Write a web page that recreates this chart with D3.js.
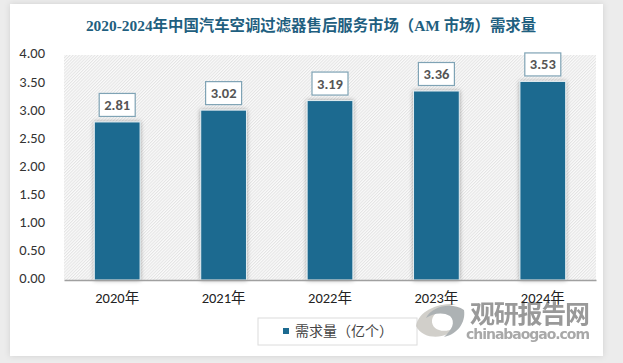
<!DOCTYPE html>
<html>
<head>
<meta charset="utf-8">
<script src="https://cdn.jsdelivr.net/npm/d3@7"></script>
<style>
  html, body { margin: 0; padding: 0; background: #ececec; overflow: hidden; }
  text { font-family: Carlito, "Noto Sans", "Noto Sans CJK SC", sans-serif; }
</style>
</head>
<body>
<div id="chart"></div>
<script>
const years = ['2020年', '2021年', '2022年', '2023年', '2024年']
const demand = [2.81, 3.02, 3.19, 3.36, 3.53]
const yTicks = [0, 0.5, 1, 1.5, 2, 2.5, 3, 3.5, 4]
const titleText = '2020-2024年中国汽车空调过滤器售后服务市场（AM 市场）需求量'
const legendText = '需求量（亿个）'

const svgSize = { width: 623, height: 363 }
const margin = { top: 55, right: 27, bottom: 83, left: 64 }

const svg = d3.select('#chart')
  .append('svg')
  .attr('width', svgSize.width)
  .attr('height', svgSize.height)
  .style('display', 'block')

const defs = svg.append('defs')

const hatch = defs.append('pattern')
  .attr('id', 'hatch')
  .attr('width', 2.2)
  .attr('height', 2.2)
  .attr('patternUnits', 'userSpaceOnUse')
  .attr('patternTransform', 'rotate(45)')
hatch.append('rect').attr('width', 2.2).attr('height', 2.2).attr('fill', '#fafafa')
hatch.append('rect').attr('width', 1).attr('height', 2.2).attr('fill', '#e4e4e4')

const barShadow = defs.append('filter')
  .attr('id', 'bar-shadow')
  .attr('x', '-30%').attr('y', '-10%').attr('width', '160%').attr('height', '120%')
barShadow.append('feDropShadow')
  .attr('dx', 0).attr('dy', 0).attr('stdDeviation', 2.2)
  .attr('flood-color', '#000').attr('flood-opacity', 0.35)

const cardShadow = defs.append('filter')
  .attr('id', 'card-shadow')
  .attr('x', '-5%').attr('y', '-5%').attr('width', '110%').attr('height', '110%')
cardShadow.append('feDropShadow')
  .attr('dx', 0).attr('dy', 0).attr('stdDeviation', 3)
  .attr('flood-color', '#000').attr('flood-opacity', 0.12)

// card behind everything
svg.append('rect')
  .attr('x', 10).attr('y', 4)
  .attr('width', 593).attr('height', 352)
  .attr('fill', '#fff')
  .attr('filter', 'url(#card-shadow)')

const xScale = d3.scaleBand()
  .domain(years)
  .range([margin.left, svgSize.width - margin.right])
  .paddingInner(0.57)
  .paddingOuter(0.285)

const yScale = d3.scaleLinear()
  .domain([0, 4])
  .range([svgSize.height - margin.bottom, margin.top])

svg.append('rect')
  .attr('x', margin.left)
  .attr('y', margin.top)
  .attr('width', svgSize.width - margin.left - margin.right)
  .attr('height', svgSize.height - margin.top - margin.bottom)
  .attr('fill', 'url(#hatch)')

svg.append('text')
  .attr('x', 311)
  .attr('y', 31)
  .attr('text-anchor', 'middle')
  .attr('font-size', 15.4)
  .attr('font-weight', 'bold')
  .attr('fill', '#1f5f80')
  .style('font-family', '"Liberation Serif", "Noto Sans CJK SC", serif')
  .text(titleText)

svg.selectAll('.bar')
  .data(demand)
  .enter().append('rect')
  .attr('class', 'bar')
  .attr('x', (d, i) => xScale(years[i]))
  .attr('y', d => yScale(d))
  .attr('width', xScale.bandwidth())
  .attr('height', d => yScale(0) - yScale(d))
  .attr('fill', '#1c6a90')
  .attr('stroke', '#e4eef2')
  .attr('stroke-width', 1)
  .attr('filter', 'url(#bar-shadow)')

const yAxis = svg.append('g')
  .attr('transform', `translate(${margin.left},0)`)
  .call(d3.axisLeft(yScale).tickValues(yTicks).tickFormat(d3.format('.2f')).tickSize(0).tickPadding(19))
yAxis.select('.domain').remove()
yAxis.selectAll('text')
  .attr('font-size', 14.5)
  .attr('fill', '#333')
  .attr('dy', '0.2em')

// value labels
const labelW = 36
const labelH = 23
const labels = svg.selectAll('.value-label')
  .data(demand)
  .enter().append('g')
  .attr('class', 'value-label')
  .attr('transform', (d, i) => `translate(${xScale(years[i]) + xScale.bandwidth() / 2},${yScale(d) - 17})`)

labels.append('rect')
  .attr('x', -labelW / 2)
  .attr('y', -labelH / 2)
  .attr('width', labelW)
  .attr('height', labelH)
  .attr('fill', '#fff')
  .attr('stroke', '#7fa3b5')
  .attr('stroke-width', 1.2)

labels.append('text')
  .attr('text-anchor', 'middle')
  .attr('dy', '0.34em')
  .attr('font-size', 14.5)
  .attr('font-weight', 'bold')
  .attr('fill', '#555')
  .text(d => d.toFixed(2))

// legend
const legend = svg.append('g')
legend.append('rect')
  .attr('x', 258).attr('y', 318)
  .attr('width', 159).attr('height', 27)
  .attr('fill', '#fff')
  .attr('stroke', '#dcdcdc')
  .attr('stroke-width', 1)
legend.append('rect')
  .attr('x', 283).attr('y', 328)
  .attr('width', 6).attr('height', 6)
  .attr('fill', '#1c6a90')
legend.append('text')
  .attr('x', 295).attr('y', 336)
  .attr('font-size', 14)
  .attr('fill', '#444')
  .text(legendText)

// watermark
const mark = svg.append('g').attr('opacity', 0.85)
mark.append('path')
  .attr('d', 'M416 326 C419 310 438 303 456 304 C442 308 433 313 432 320 C431 330 444 334 454 328 C450 338 424 342 416 326 Z')
  .attr('fill', '#c9c7c1')
mark.append('path')
  .attr('d', 'M464 310 C466 322 458 334 444 337 C452 330 456 322 450 316 C442 311 432 314 426 318 C432 306 452 302 464 310 Z')
  .attr('fill', '#9fa5a8')
mark.append('text')
  .attr('x', 470).attr('y', 323)
  .attr('font-size', 25)
  .attr('font-weight', 'bold')
  .attr('textLength', 120)
  .attr('fill', '#888')
  .text('观研报告网')
mark.append('text')
  .attr('x', 466).attr('y', 339)
  .attr('font-size', 14)
  .attr('font-weight', 'bold')
  .attr('textLength', 124)
  .attr('fill', '#9a9a9a')
  .style('font-family', '"DejaVu Sans", sans-serif')
  .text('chinabaogao.com')

// x axis last, the year labels sit on top of the watermark
const xAxis = svg.append('g')
  .attr('transform', `translate(0,${svgSize.height - margin.bottom})`)
  .call(d3.axisBottom(xScale).tickSize(0).tickPadding(13))
xAxis.select('.domain').attr('stroke', '#a0a0a0').attr('stroke-width', 1.5)
xAxis.selectAll('text')
  .attr('font-size', 14.5)
  .attr('fill', '#222')
</script>
</body>
</html>
